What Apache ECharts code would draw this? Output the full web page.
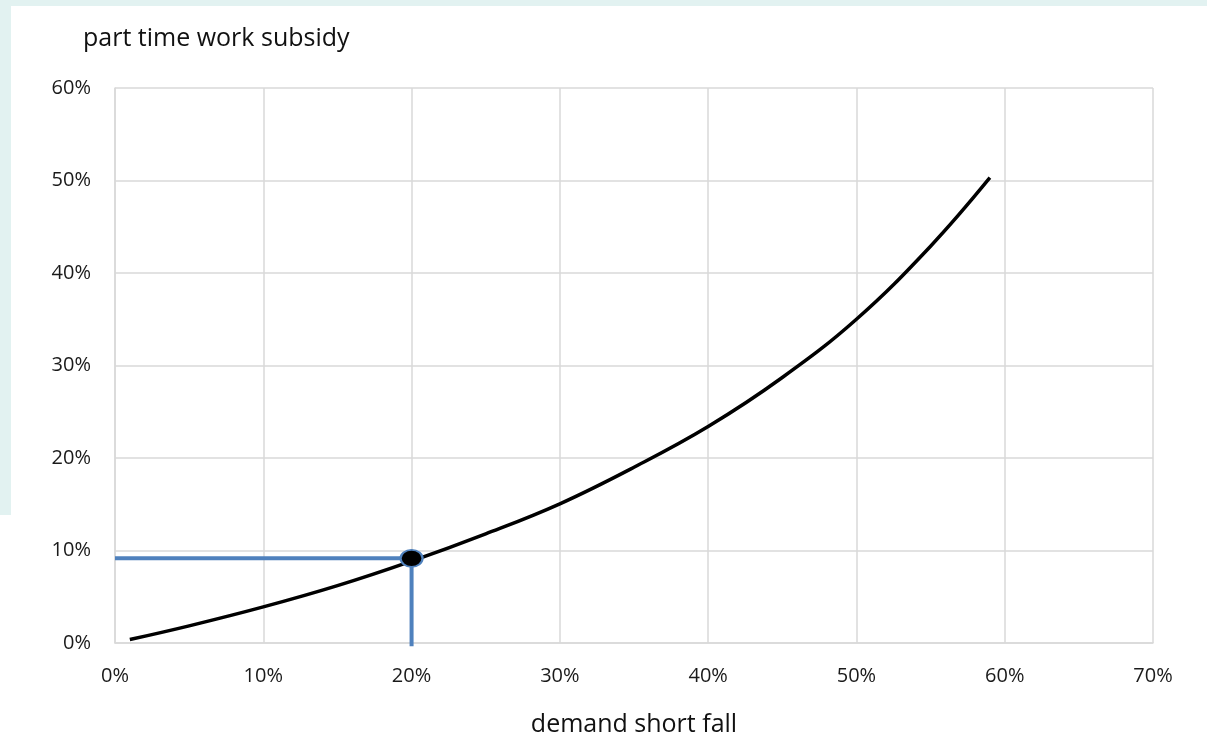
<!DOCTYPE html>
<html>
<head>
<meta charset="utf-8">
<title>part time work subsidy</title>
<script src="https://cdn.jsdelivr.net/npm/echarts@6/dist/echarts.min.js"></script>
<style>
  html, body { margin: 0; padding: 0; background: #ffffff; }
  #chart { width: 1207px; height: 737px; }
</style>
</head>
<body>
<div id="chart"></div>
<script>
// 曲线数据 (需求缺口 % -> 补贴 %)
const shortfall = [1, 5, 10, 15, 20, 25, 30, 35, 40, 45, 50, 55, 59];
const subsidy = [0.37, 1.85, 3.9, 6.2, 8.85, 11.8, 15.05, 19.0, 23.4, 28.7, 35.0, 42.9, 50.3];

// 标记点 (20% 缺口)
const markX = 20;
const markY = 9.15;

// 坐标轴刻度
const xTicks = [0, 10, 20, 30, 40, 50, 60, 70];
const yTicks = [0, 10, 20, 30, 40, 50, 60];

const font = 'Open Sans, Noto Sans, sans-serif';
const chart = echarts.init(document.getElementById('chart'));

const option = {
    backgroundColor: '#ffffff',
    animation: false,
    graphic: [
        { type: 'rect', shape: { x: 0, y: 0, width: 1207, height: 6 }, style: { fill: '#e2f2f1' }, silent: true },
        { type: 'rect', shape: { x: 0, y: 0, width: 11, height: 515 }, style: { fill: '#e2f2f1' }, silent: true }
    ],
    title: {
        text: 'part time work subsidy',
        left: 78,
        top: 21,
        textStyle: { color: '#111111', fontSize: 25, fontWeight: 'normal', fontFamily: font }
    },
    grid: { left: 115, right: 54, top: 88, bottom: 94, outerBoundsMode: 'none', containLabel: false },
    xAxis: {
        type: 'value',
        min: xTicks[0],
        max: xTicks[xTicks.length - 1],
        interval: 10,
        name: 'demand short fall',
        nameLocation: 'middle',
        nameGap: 69,
        nameTextStyle: { color: '#111111', fontSize: 25, fontFamily: font },
        axisLine: { show: true, lineStyle: { color: '#d9d9d9', width: 1.5 } },
        axisTick: { show: false },
        axisLabel: { color: '#1a1a1a', fontSize: 20, fontFamily: font, margin: 23, formatter: '{value}%' },
        splitLine: { show: true, lineStyle: { color: '#d9d9d9', width: 1.5 } }
    },
    yAxis: {
        type: 'value',
        min: yTicks[0],
        max: yTicks[yTicks.length - 1],
        interval: 10,
        axisLine: { show: true, lineStyle: { color: '#d9d9d9', width: 1.5 } },
        axisTick: { show: false },
        axisLabel: { color: '#1a1a1a', fontSize: 20, fontFamily: font, margin: 24, formatter: '{value}%' },
        splitLine: { show: true, lineStyle: { color: '#d9d9d9', width: 1.5 } }
    },
    series: [
        {
            name: 'guide',
            type: 'line',
            data: [[xTicks[0], markY], [markX, markY], [markX, -0.35]],
            clip: false,
            symbol: 'none',
            lineStyle: { color: '#4f81bd', width: 4 },
            z: 3
        },
        {
            name: 'subsidy',
            type: 'line',
            data: shortfall.map((x, i) => [x, subsidy[i]]),
            smooth: 0.4,
            symbol: 'none',
            lineStyle: { color: '#000000', width: 3.5 },
            z: 4
        },
        {
            name: 'point',
            type: 'scatter',
            data: [[markX, markY]],
            symbol: 'circle',
            symbolSize: [22, 17],
            itemStyle: { color: '#000000', borderColor: '#4f81bd', borderWidth: 2, opacity: 1 },
            z: 5
        }
    ]
};
chart.setOption(option);

window.addEventListener('resize', () => chart.resize());
</script>
</body>
</html>
